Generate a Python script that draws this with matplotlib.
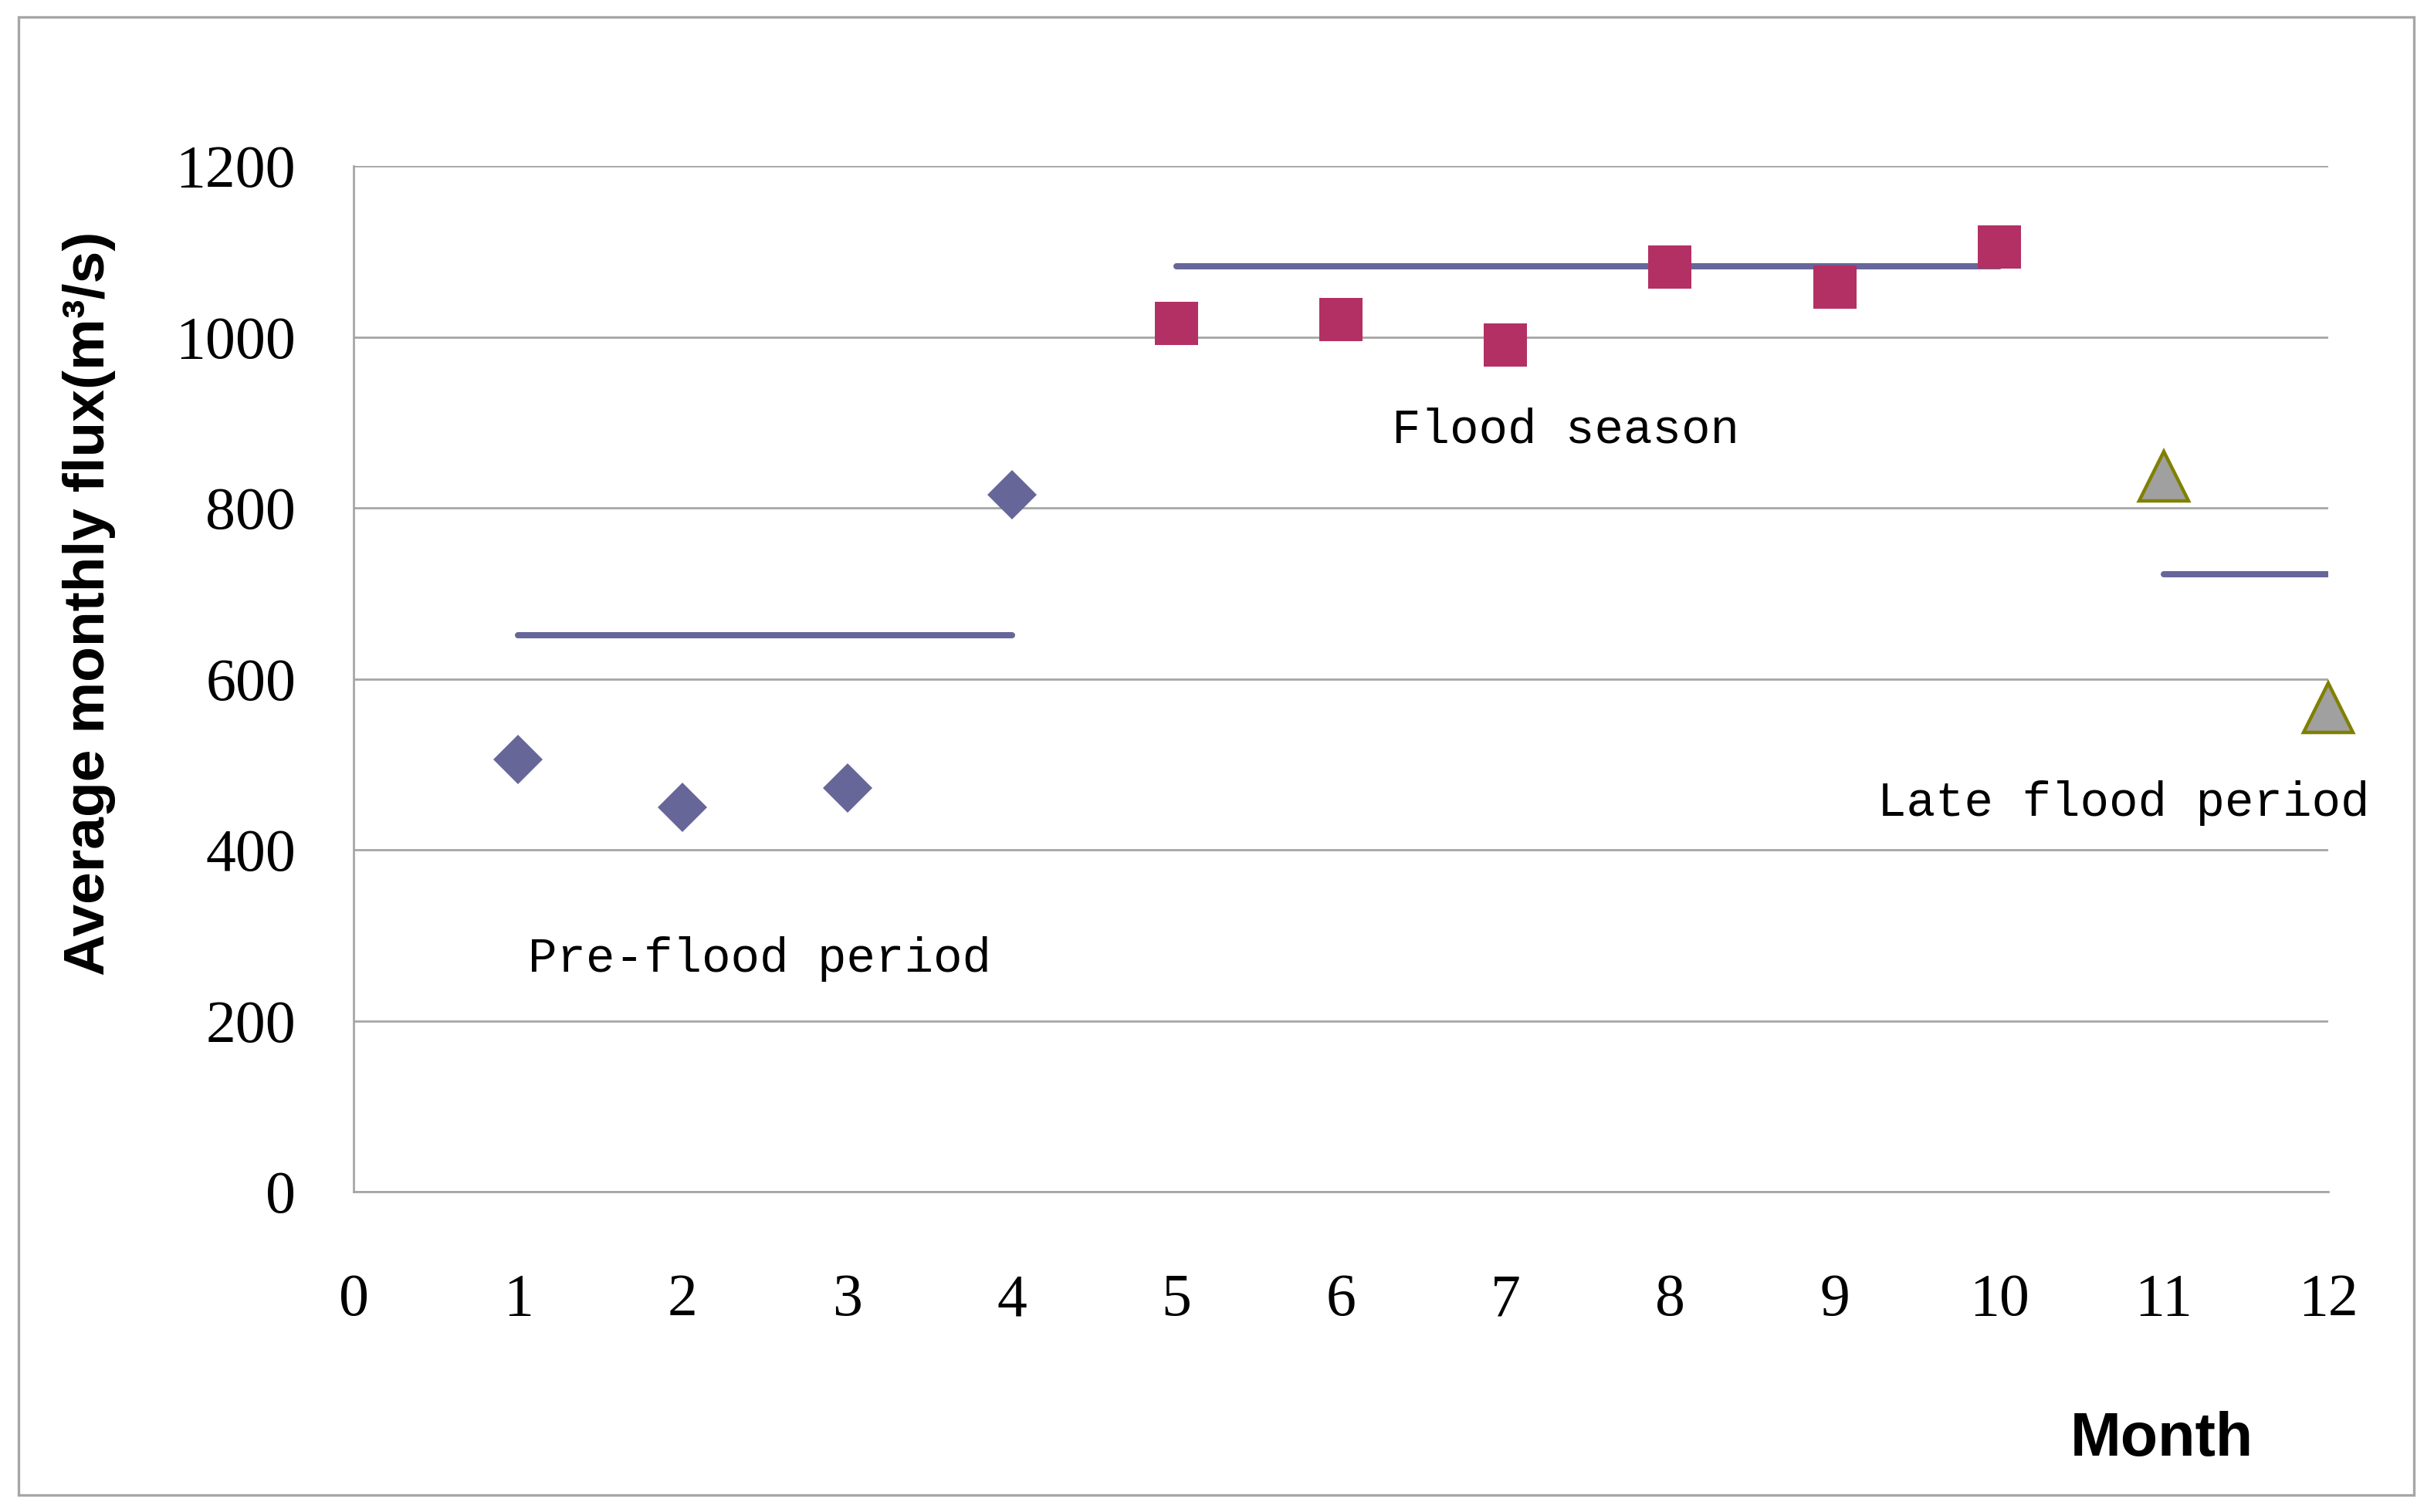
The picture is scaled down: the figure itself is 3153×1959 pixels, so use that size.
import numpy as np
from matplotlib import pyplot as plt
from matplotlib.patches import Rectangle

# monthly values
pre_months = [1, 2, 3, 4]
pre_flux = [506, 450, 472, 815]
flood_months = [5, 6, 7, 8, 9, 10]
flood_flux = [1016, 1020, 991, 1082, 1058, 1105]
late_months = [11, 12]
late_flux = [837, 566]

# period mean lines (as drawn)
pre_mean = 651
flood_mean = 1083
late_mean = 722

xticks = list(range(0, 13))
yticks = [0, 200, 400, 600, 800, 1000, 1200]

fig = plt.figure(figsize=(15.765, 9.795), dpi=200)
ax = fig.add_axes([0.1453, 0.2118, 0.9566 - 0.1453, 0.8902 - 0.2118])

line_col = '#666699'
ax.plot([pre_months[0], pre_months[-1]], [pre_mean, pre_mean], color=line_col, lw=2.9, solid_capstyle='round', zorder=2)
ax.plot([flood_months[0], flood_months[-1]], [flood_mean, flood_mean], color=line_col, lw=2.9, solid_capstyle='round', zorder=2)
ax.plot([late_months[0], late_months[-1]], [late_mean, late_mean], color=line_col, lw=2.9, solid_capstyle='round', zorder=2)

ax.plot(pre_months, pre_flux, 'D', color='#666699', markersize=16.5, markeredgewidth=0, zorder=3, clip_on=False)
ax.plot(flood_months, flood_flux, 's', color='#b33064', markersize=20, markeredgewidth=0, zorder=3, clip_on=False)
ax.plot(late_months, late_flux, '^', markerfacecolor='#a0a0a0', markeredgecolor='#808000',
        markersize=23, markeredgewidth=1.6, zorder=3, clip_on=False)

ax.set_xlim(0, 12)
ax.set_ylim(0, 1200)
ax.set_xticks(xticks)
ax.set_yticks(yticks)
ax.tick_params(length=0)
ax.tick_params(axis='y', pad=27)
ax.tick_params(axis='x', pad=38)
for lab in ax.get_xticklabels() + ax.get_yticklabels():
    lab.set_fontfamily(['Liberation Serif', 'DejaVu Serif'])
    lab.set_fontsize(28)

ax.yaxis.grid(True, color='#a6a6a6', lw=1.0)
ax.set_axisbelow(True)
for s in ['top', 'right']:
    ax.spines[s].set_visible(False)
for s in ['left', 'bottom']:
    ax.spines[s].set_color('#a6a6a6')
    ax.spines[s].set_linewidth(1.0)

mono = ['Liberation Mono', 'DejaVu Sans Mono']
ax.text(1.06, 272, 'Pre-flood period', fontfamily=mono, fontsize=22.5, va='center', ha='left')
ax.text(6.31, 891, 'Flood season', fontfamily=mono, fontsize=22.5, va='center', ha='left')
ax.text(9.26, 455, 'Late flood period', fontfamily=mono, fontsize=22.5, va='center', ha='left', clip_on=False)

narrow = ['Liberation Sans Narrow', 'Liberation Sans', 'DejaVu Sans']
fig.text(0.0365, 0.601, 'Average monthly flux(m³/s)', rotation=90, fontfamily=narrow,
         fontweight='bold', fontsize=27, ha='center', va='center')
fig.text(0.888, 0.0475, 'Month', fontfamily=['Liberation Sans', 'DejaVu Sans'],
         fontweight='bold', fontsize=28.5, ha='center', va='center')

fig.patches.append(Rectangle((24 / 3153, 22 / 1959), (3127 - 24) / 3153, (1937 - 22) / 1959,
                             transform=fig.transFigure, fill=False, edgecolor='#a6a6a6', lw=1.2))

fig.savefig('out.png', dpi=200)
